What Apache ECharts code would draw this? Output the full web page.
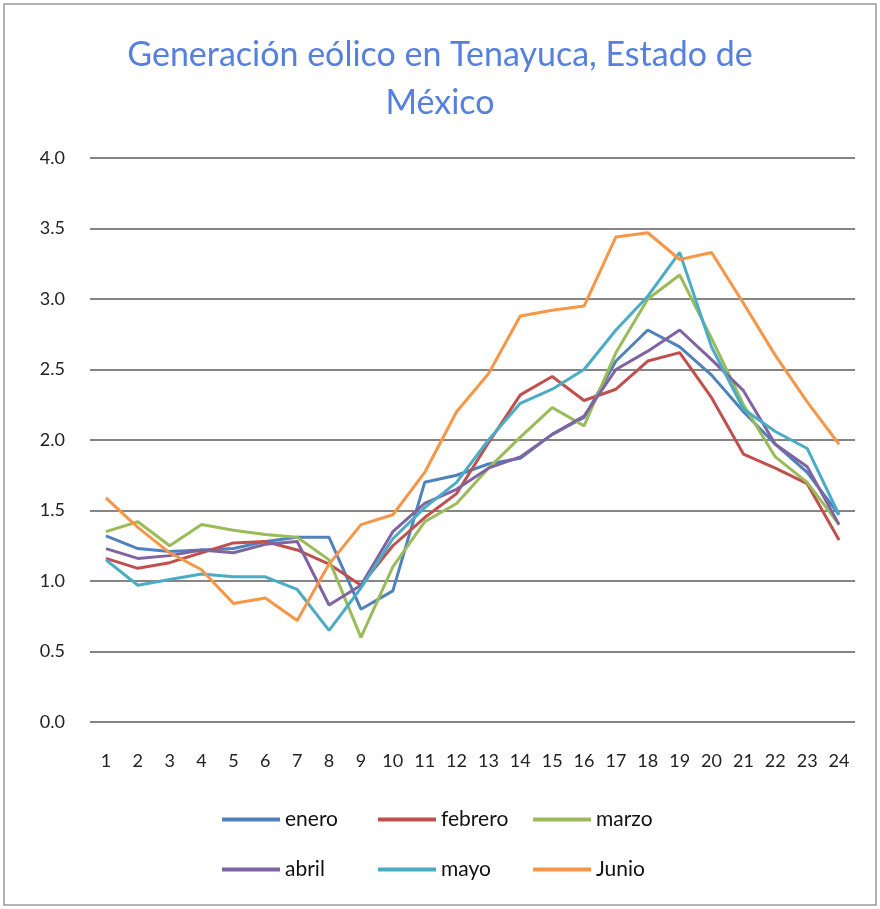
<!DOCTYPE html>
<html>
<head>
<meta charset="utf-8">
<script src="https://cdn.jsdelivr.net/npm/echarts@6/dist/echarts.min.js"></script>
<style>
  html, body { margin: 0; padding: 0; background: #fff; }
  #chart { width: 880px; height: 909px; }
</style>
</head>
<body>
<div id="chart"></div>
<script>
	var horas = ['1','2','3','4','5','6','7','8','9','10','11','12','13','14','15','16','17','18','19','20','21','22','23','24'];
	var enero   = [1.32, 1.23, 1.21, 1.22, 1.23, 1.28, 1.31, 1.31, 0.80, 0.93, 1.70, 1.75, 1.83, 1.87, 2.04, 2.16, 2.56, 2.78, 2.66, 2.46, 2.20, 1.97, 1.77, 1.47];
	var febrero = [1.16, 1.09, 1.13, 1.20, 1.27, 1.28, 1.22, 1.12, 0.97, 1.25, 1.45, 1.62, 1.98, 2.32, 2.45, 2.28, 2.36, 2.56, 2.62, 2.30, 1.90, 1.80, 1.69, 1.29];
	var marzo   = [1.35, 1.42, 1.25, 1.40, 1.36, 1.33, 1.31, 1.15, 0.60, 1.10, 1.42, 1.55, 1.80, 2.02, 2.23, 2.10, 2.62, 3.00, 3.17, 2.72, 2.25, 1.88, 1.70, 1.40];
	var abril   = [1.23, 1.16, 1.18, 1.22, 1.20, 1.26, 1.28, 0.83, 0.97, 1.35, 1.55, 1.65, 1.80, 1.88, 2.04, 2.17, 2.50, 2.63, 2.78, 2.57, 2.35, 1.97, 1.81, 1.40];
	var mayo    = [1.15, 0.97, 1.01, 1.05, 1.03, 1.03, 0.94, 0.65, 0.95, 1.30, 1.52, 1.70, 2.00, 2.26, 2.36, 2.50, 2.78, 3.02, 3.33, 2.66, 2.22, 2.06, 1.94, 1.47];
	var junio   = [1.59, 1.38, 1.20, 1.08, 0.84, 0.88, 0.72, 1.12, 1.40, 1.47, 1.77, 2.20, 2.47, 2.88, 2.92, 2.95, 3.44, 3.47, 3.28, 3.33, 2.97, 2.60, 2.27, 1.97];

	var nombres = ['enero', 'febrero', 'marzo', 'abril', 'mayo', 'Junio'];
	var colores = ['#4F81BD', '#C0504D', '#9BBB59', '#8064A2', '#4BACC6', '#F79646'];
	var datos = [enero, febrero, marzo, abril, mayo, junio];

	var seriesData = [];
	for (var i = 0; i < nombres.length; i++) {
		seriesData.push({
			name: nombres[i],
			type: 'line',
			data: datos[i],
			symbol: 'none',
			smooth: false,
			lineStyle: { width: 3, color: colores[i] },
			itemStyle: { color: colores[i] }
		});
	}

	// una leyenda por serie, en dos filas de tres columnas
	var legendLeft = [217, 373, 528];
	var legendTop = [804, 854];
	var legends = [];
	for (var j = 0; j < nombres.length; j++) {
		legends.push({
			left: legendLeft[j % 3],
			top: legendTop[Math.floor(j / 3)],
			itemWidth: 58,
			itemHeight: 4,
			icon: 'rect',
			textStyle: { fontFamily: 'Lato', fontSize: 21, color: '#111' },
			data: [nombres[j]]
		});
	}

	var chart = echarts.init(document.getElementById('chart'));
	var option = {
		color: colores,
		title: {
			text: 'Generación eólico en Tenayuca, Estado de\nMéxico',
			left: 'center',
			top: 26,
			textStyle: { fontFamily: 'Lato', fontSize: 34, fontWeight: 'normal', color: '#5580df', lineHeight: 48 }
		},
		grid: { left: 90, right: 25, top: 158, bottom: 187 },
		legend: legends,
		xAxis: {
			type: 'category',
			data: horas,
			boundaryGap: true,
			axisLine: { show: false },
			axisTick: { show: false },
			axisLabel: { fontFamily: 'Lato', fontSize: 18, color: '#222', margin: 30 }
		},
		yAxis: {
			type: 'value',
			min: 0,
			max: 4,
			interval: 0.5,
			axisLine: { show: false },
			axisTick: { show: false },
			axisLabel: {
				fontFamily: 'Lato', fontSize: 18, color: '#222', margin: 25,
				formatter: function (v) { return v.toFixed(1); }
			},
			splitLine: { lineStyle: { color: '#858585', width: 2 } }
		},
		graphic: [{
			type: 'rect',
			shape: { x: 4, y: 4, width: 872, height: 901 },
			style: { fill: 'none', stroke: '#9a9a9a', lineWidth: 1.5 }
		}],
		series: seriesData
	};
	chart.setOption(option);
</script>
</body>
</html>
